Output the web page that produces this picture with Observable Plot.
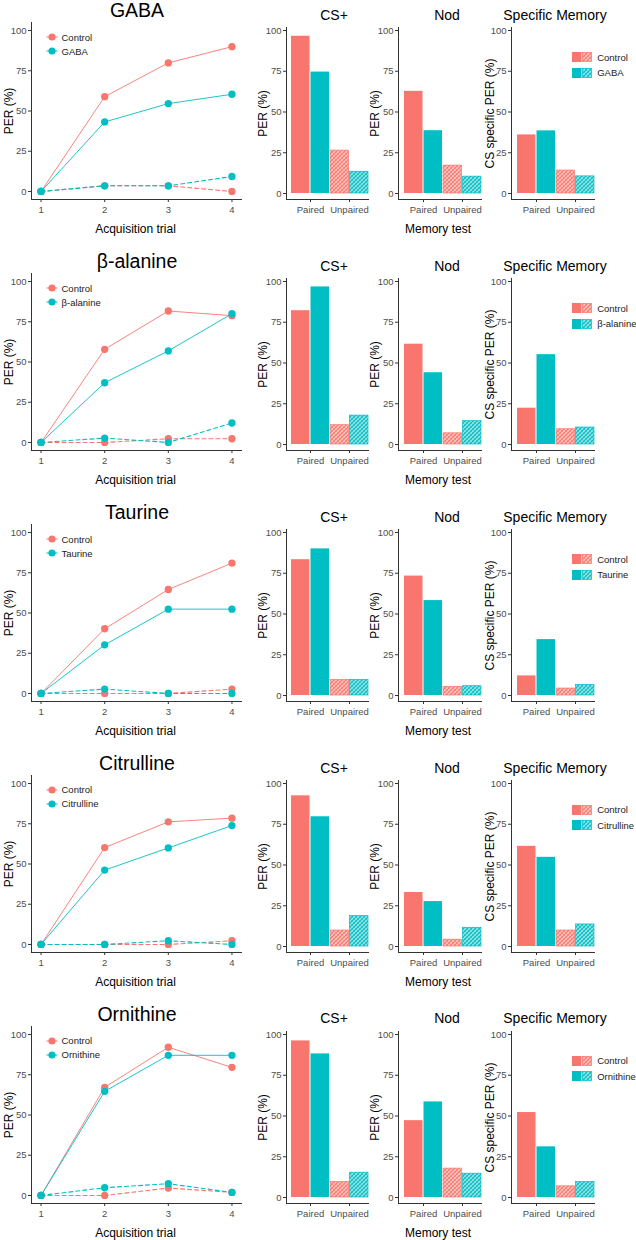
<!DOCTYPE html>
<html>
<head>
<meta charset="utf-8">
<script src="https://cdn.jsdelivr.net/npm/d3@7"></script>
<script src="https://cdn.jsdelivr.net/npm/@observablehq/plot@0.6"></script>
<style>
  html, body { margin: 0; padding: 0; background: #fff; }
  body { font-family: "Liberation Sans", Arial, sans-serif; }
  #root { position: relative; width: 636px; height: 1240px; overflow: hidden; background: #fff; }
  .abs { position: absolute; white-space: nowrap; }
  .rowtitle { font-size: 19.5px; line-height: 19.5px; color: #000; transform: translateX(-50%); }
  .paneltitle { font-size: 14px; line-height: 14px; color: #000; transform: translateX(-50%); }
  .lg { display: flex; align-items: center; font-size: 9.5px; color: #222; }
  .lg svg { display: block; }
</style>
</head>
<body>
<svg width="0" height="0" style="position:absolute">
  <defs>
    <pattern id="hatch-ctrl" patternUnits="userSpaceOnUse" width="4" height="4">
      <rect width="4" height="4" fill="#fbc6c1"></rect>
      <path d="M-1,1 l2,-2 M0,4 l4,-4 M3,5 l2,-2" stroke="#F8766D" stroke-width="1.1"></path>
      <path d="M-1,3 l2,2 M0,0 l4,4 M3,-1 l2,2" stroke="#F8766D" stroke-width="0.5"></path>
    </pattern>
    <pattern id="hatch-treat" patternUnits="userSpaceOnUse" width="4" height="4">
      <rect width="4" height="4" fill="#99e3e5"></rect>
      <path d="M-1,1 l2,-2 M0,4 l4,-4 M3,5 l2,-2" stroke="#00BFC4" stroke-width="1.1"></path>
      <path d="M-1,3 l2,2 M0,0 l4,4 M3,-1 l2,2" stroke="#00BFC4" stroke-width="0.5"></path>
    </pattern>
  </defs>
</svg>
<div id="root"></div>
<script>
// ---------------- data ----------------
const substances = ["GABA", "β-alanine", "Taurine", "Citrulline", "Ornithine"];
const trials = [1, 2, 3, 4];
const conditions = ["Paired", "Unpaired"];
const yTicks = [0, 25, 50, 75, 100];

// Acquisition curves (PER %), one row per substance, values for trials 1..4
const acqControlPaired   = [[0, 58.9, 79.9, 90.0], [0, 57.9, 81.7, 78.8], [0, 40.2, 64.6, 81.0], [0, 60.2, 76.2, 78.5], [0, 67.2, 92.1, 79.6]];
const acqTreatPaired     = [[0, 43.2, 54.6, 60.4], [0, 37.1, 56.9, 80.0], [0, 30.2, 52.4, 52.4], [0, 46.2, 60.0, 73.9], [0, 64.7, 87.1, 87.1]];
const acqControlUnpaired = [[0, 3.5, 3.5, 0], [0, 0, 2.3, 2.3], [0, 0, 0, 2.7], [0, 0, 0, 2.3], [0, 0, 4.6, 1.9]];
const acqTreatUnpaired   = [[0, 3.5, 3.5, 9.3], [0, 2.7, 0, 12.1], [0, 2.7, 0, 0], [0, 0, 2.3, 0], [0, 4.8, 7.3, 1.9]];

// Memory tests: [Paired, Unpaired] per substance
const csPlusControl = [[96.6, 28.9], [82.7, 13.3], [83.9, 10.8], [92.7, 11.0], [96.2, 10.7]];
const csPlusTreat   = [[75.4, 15.0], [96.8, 19.9], [90.3, 10.8], [80.3, 21.0], [88.5, 17.1]];
const nodControl    = [[64.0, 19.2], [62.9, 7.7], [74.2, 6.0], [35.5, 4.7], [49.0, 19.9]];
const nodTreat      = [[40.7, 11.6], [46.0, 16.1], [59.7, 6.4], [30.1, 12.9], [60.1, 16.4]];
const specControl   = [[38.2, 15.8], [25.0, 10.5], [13.5, 4.8], [62.8, 11.0], [53.8, 7.7]];
const specTreat     = [[40.6, 11.8], [56.7, 11.7], [36.6, 7.3], [56.3, 15.2], [33.5, 10.7]];

// ---------------- styles ----------------
const CTRL = "#F8766D", TREAT = "#00BFC4";
const HATCH_CTRL = "url(#hatch-ctrl)", HATCH_TREAT = "url(#hatch-treat)";
const AXIS = "#333333", TICKTEXT = "#4d4d4d";
const FONT = "Liberation Sans, Arial, sans-serif";
const ROW_STEP = 250.9;
const root = document.getElementById("root");

// the bar panels' value axis in the original is slightly compressed between 0 and 25
const barWarp = v => v >= 25 ? 22.27 + (v - 25) * 1.0364 : v * 0.8908;

function place(el, left, top) {
  el.style.position = "absolute";
  el.style.left = left + "px";
  el.style.top = top + "px";
  root.appendChild(el);
  return el;
}
function textDiv(cls, txt, cx, baseline, fs) {
  const d = document.createElement("div");
  d.className = "abs " + cls;
  d.textContent = txt;
  place(d, cx, baseline - 0.8465 * fs);
}
const svgStyle = {background: "none", fontFamily: FONT, fontSize: "9.5px", overflow: "visible"};

function axisMarks(xOpts) {
  return [
    Plot.frame({anchor: "left", stroke: AXIS, strokeWidth: 1}),
    Plot.frame({anchor: "bottom", stroke: AXIS, strokeWidth: 1}),
    Plot.axisX({tickSize: 3, tickPadding: 4, stroke: AXIS, fill: TICKTEXT, fontSize: 9.5, label: null, ...xOpts}),
    Plot.axisY({ticks: yTicks, tickSize: 3, tickPadding: 2, stroke: AXIS, fill: TICKTEXT, fontSize: 9.5, label: null})
  ];
}
const yTitle = (txt, dx) => Plot.text([txt], {frameAnchor: "left", rotate: -90, dx, textAnchor: "middle", lineAnchor: "middle", fontSize: 12, fill: "#000"});
const xTitle = (txt, dx) => Plot.text([txt], {frameAnchor: "bottom", dy: 30, dx, textAnchor: "middle", lineAnchor: "middle", fontSize: 12, fill: "#000"});

function linePanel(i) {
  const rows = vals => trials.map((t, k) => ({trial: t, per: vals[k]}));
  const series = [
    {vals: acqControlPaired[i], color: CTRL, dash: null},
    {vals: acqControlUnpaired[i], color: CTRL, dash: "4,3"},
    {vals: acqTreatPaired[i], color: TREAT, dash: null},
    {vals: acqTreatUnpaired[i], color: TREAT, dash: "4,3"}
  ];
  const marks = [
    ...axisMarks({ticks: trials, tickFormat: d => String(d)}),
    yTitle("PER (%)", -22),
    xTitle("Acquisition trial", -1)
  ];
  for (const s of series) {
    marks.push(Plot.line(rows(s.vals), {x: "trial", y: "per", stroke: s.color,
      strokeWidth: s.dash ? 1.1 : 0.9, strokeDasharray: s.dash || undefined}));
  }
  for (const s of series) {
    marks.push(Plot.dot(rows(s.vals), {x: "trial", y: "per", r: 3.65, fill: s.color, stroke: "none"}));
  }
  return Plot.plot({
    width: 245, height: 240,
    marginLeft: 31, marginRight: 4, marginTop: 22, marginBottom: 41,
    x: {domain: [0.85, 4.15]},
    y: {domain: [-5, 105]},
    style: svgStyle,
    marks
  });
}

function barPanel(ctrlVals, treatVals, o) {
  const rows = vals => conditions.map((c, k) => ({cond: c, per: vals[k]}));
  const c = rows(ctrlVals), t = rows(treatVals);
  const paired = d => d.cond === "Paired", unpaired = d => d.cond === "Unpaired";
  const marks = [
    ...axisMarks({}),
    Plot.barY(c.filter(paired), {x: "cond", y: "per", fill: CTRL, insetRight: 19.5}),
    Plot.barY(t.filter(paired), {x: "cond", y: "per", fill: TREAT, insetLeft: 19.5}),
    Plot.barY(c.filter(unpaired), {x: "cond", y: "per", fill: HATCH_CTRL, stroke: CTRL, strokeWidth: 0.7, insetRight: 19.5}),
    Plot.barY(t.filter(unpaired), {x: "cond", y: "per", fill: HATCH_TREAT, stroke: TREAT, strokeWidth: 0.7, insetLeft: 19.5}),
    yTitle(o.ylabel, o.ylabelDx)
  ];
  if (o.xlabel) marks.push(xTitle(o.xlabel, -2));
  return Plot.plot({
    width: o.width, height: 240,
    marginLeft: o.ml, marginRight: o.mr, marginTop: 27, marginBottom: 41,
    x: {type: "band", domain: conditions, paddingInner: 0.026, paddingOuter: 0.064, align: 1},
    y: {type: "linear", domain: [-3.68, 101.84], transform: barWarp},
    style: svgStyle,
    marks
  });
}

function lineLegend(name, top) {
  const make = (label, color, y) => {
    const d = document.createElement("div");
    d.className = "abs lg";
    d.innerHTML = `<svg width="12" height="10"><line x1="0.5" x2="11.5" y1="5" y2="5" stroke="${color}" stroke-width="1"/><circle cx="6" cy="5" r="3.6" fill="${color}"/></svg><span style="margin-left:4px">${label}</span>`;
    place(d, 45.5, top + y - 6);
  };
  make("Control", CTRL, 37.7);
  make(name, TREAT, 51.7);
}
function barLegend(name, top) {
  const make = (label, color, hatch, y) => {
    const d = document.createElement("div");
    d.className = "abs lg";
    d.innerHTML = `<svg width="21" height="10"><rect x="0" y="0" width="9.5" height="10" fill="${color}"/><rect x="10.3" y="0.4" width="9.3" height="9.2" fill="${hatch}" stroke="${color}" stroke-width="0.7"/></svg><span style="margin-left:4.5px">${label}</span>`;
    place(d, 571.7, top + y - 6);
  };
  make("Control", CTRL, HATCH_CTRL, 57.7);
  make(name, TREAT, HATCH_TREAT, 73.2);
}

substances.forEach((name, i) => {
  const top = i * ROW_STEP;
  place(linePanel(i), 0, top);
  place(barPanel(csPlusControl[i], csPlusTreat[i], {width: 130, ml: 46, mr: 2, ylabel: "PER (%)", ylabelDx: -23.7}), 240, top);
  place(barPanel(nodControl[i], nodTreat[i], {width: 130, ml: 43, mr: 4, ylabel: "PER (%)", ylabelDx: -23.7, xlabel: "Memory test"}), 355, top);
  place(barPanel(specControl[i], specTreat[i], {width: 174, ml: 49, mr: 42, ylabel: "CS specific PER (%)", ylabelDx: -21}), 462, top);
  textDiv("rowtitle", name, 137, top + 17.7, 19.5);
  textDiv("paneltitle", "CS+", 334, top + 19.7, 14);
  textDiv("paneltitle", "Nod", 447, top + 19.7, 14);
  textDiv("paneltitle", "Specific Memory", 555, top + 19.7, 14);
  lineLegend(name, top);
  barLegend(name, top);
});
</script>
</body>
</html>
